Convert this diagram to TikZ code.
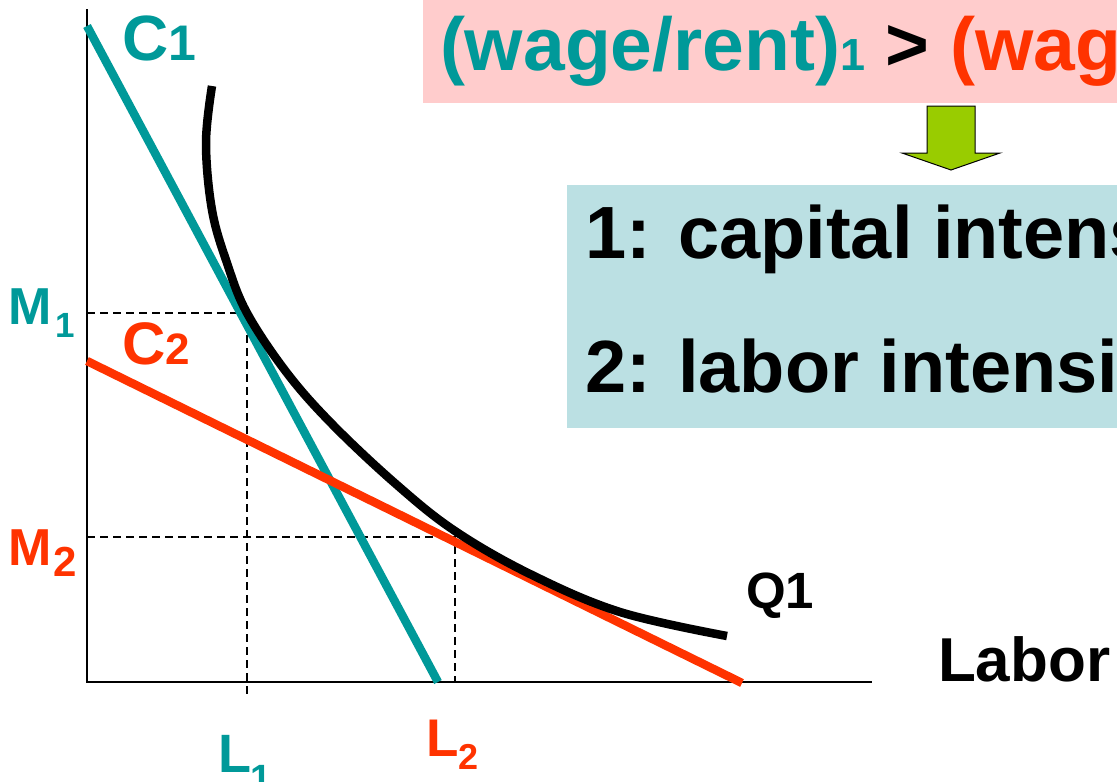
\documentclass[tikz,border=0pt]{standalone}
\usepackage{fontspec}
\setmainfont{Liberation Sans}
\definecolor{tealc}{RGB}{0,153,153}
\definecolor{redc}{RGB}{255,51,0}
\definecolor{pinkbg}{RGB}{255,204,204}
\definecolor{bluebg}{RGB}{187,224,227}
\definecolor{arrowgreen}{RGB}{153,204,0}
\newcommand\fsz[1]{\fontsize{#1}{#1}\selectfont}
\begin{document}
\begin{tikzpicture}[x=1pt,y=-1pt,
  lbl/.style={inner sep=0pt, outer sep=0pt, anchor=base west, font=\bfseries},
  axisline/.style={line width=2pt, black},
  guide/.style={line width=1.5pt, black, dash pattern=on 8pt off 5pt},
  costline/.style={line width=8.5pt},
  isoquant/.style={line width=8.5pt, black}]
\useasboundingbox (0,0) rectangle (1117,782);
\clip (0,0) rectangle (1117,782);
% boxes
\fill[pinkbg] (423,-5) rectangle (1130,103);
\fill[bluebg] (567,185) rectangle (1130,428);
% arrow
\draw[fill=arrowgreen, line width=1pt, line join=miter]
  (927,106) -- (975,106) -- (975,153) -- (1000,153) -- (951,170) -- (902,153) -- (927,153) -- cycle;
% coordinates
\coordinate (top) at (87,9);
\coordinate (O) at (87,682);
\coordinate (right) at (872,682);
\coordinate (M1) at (87,313);
\coordinate (P1) at (247,313);
\coordinate (L1b) at (247,698);
\coordinate (M2) at (87,537);
\coordinate (P2) at (455,537);
\coordinate (L2b) at (455,682);
\coordinate (C1a) at (87,26);
\coordinate (C1b) at (438,682);
\coordinate (C2a) at (87,361);
\coordinate (C2b) at (742,683);
% guides
\draw[guide] (M1) -- (P1) -- (L1b);
\draw[guide] (M2) -- (P2) -- (L2b);
% axes
\draw[axisline] (top) -- (O) -- (right);
% cost lines
\draw[costline, tealc] (C1a) -- (C1b);
\draw[costline, redc] (C2a) -- (C2b);
% isoquant
\draw[isoquant] plot[smooth, tension=0.6] coordinates {
 (212,86) (206,143) (212,210) (227,263) (247,313) (287,373) (333,425)
 (397,485) (455,531) (530,574) (620,612) (727,636)};
% labels
\node[lbl, text=tealc] (c1) at (122,60) {\fsz{64}C\fsz{50}1};
\node[lbl, text=redc] (c2) at (122,364) {\fsz{60}C\fsz{44}2};
\node[lbl, text=tealc] (m1) at (9,324) {\fsz{52}M\kern3pt\raisebox{-13pt}{\fsz{35}1}};
\node[lbl, text=redc] (m2) at (9,565) {\fsz{52}M\kern1pt\raisebox{-11pt}{\fsz{42}2}};
\node[lbl, text=tealc] (l1) at (218,772) {\fsz{54}L\raisebox{-19pt}{\fsz{38}1}};
\node[lbl, text=redc] (l2) at (426,756) {\fsz{53}L\raisebox{-13pt}{\fsz{36}2}};
\node[lbl] (q1) at (746,608) {\fsz{51}Q1};
\node[lbl] (labor) at (938,681) {\fsz{62}Labor};
\node[lbl] (title) at (440,70) {\fsz{75}\textcolor{tealc}{(wage/rent)\fsz{45}1}\textcolor{black}{\ >\ }\textcolor{redc}{(wage/rent)\fsz{45}2}};
\node[lbl] (line1) at (585,258) {\fsz{74}1: capital intensive};
\node[lbl] (line2) at (585,392) {\fsz{74}2: labor intensive};
\end{tikzpicture}
\end{document}
